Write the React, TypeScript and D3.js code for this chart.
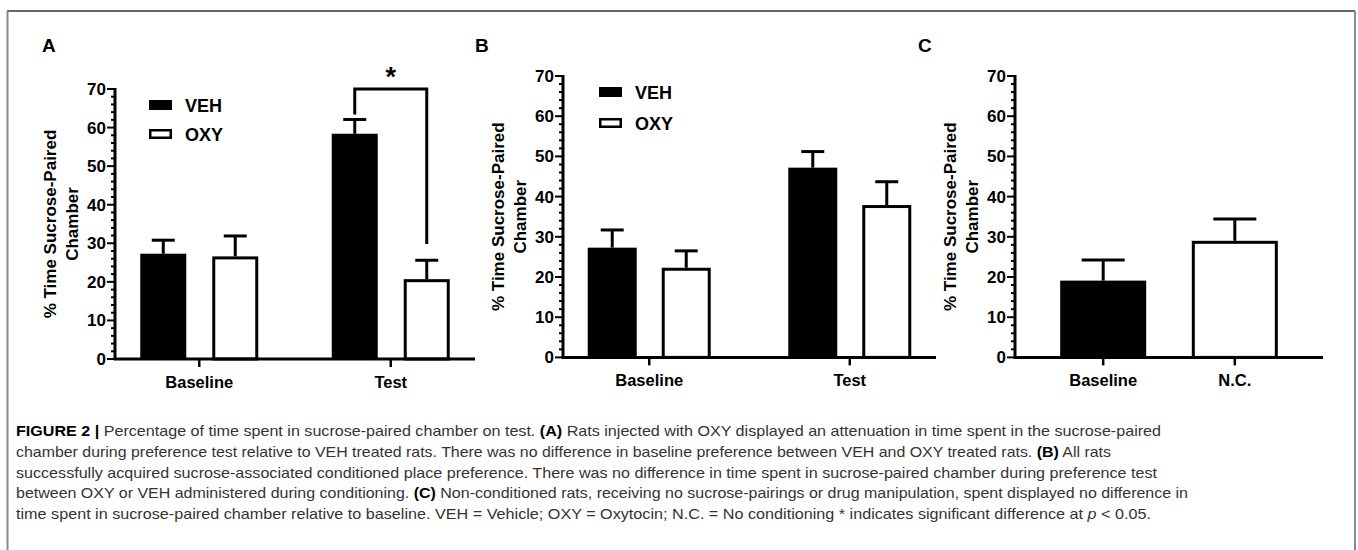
import React from 'react';
import * as d3 from 'd3';

// ---------- DATA ----------
const seriesNames = ['VEH', 'OXY'];
const yTicks = [0, 10, 20, 30, 40, 50, 60, 70];

const categoriesA = ['Baseline', 'Test'];
const vehMeanA = [27.3, 58.4];
const vehSemA = [3.5, 3.7];
const oxyMeanA = [26.6, 20.7];
const oxySemA = [5.3, 4.9];
const sigA = { top: 70, leftEnd: 63.4, rightEnd: 29.8, label: '*' };

const categoriesB = ['Baseline', 'Test'];
const vehMeanB = [27.3, 47.2];
const vehSemB = [4.4, 4.0];
const oxyMeanB = [22.3, 37.9];
const oxySemB = [4.2, 5.8];

const categoriesC = ['Baseline', 'N.C.'];
const meanC = [19.1, 29.0];
const semC = [5.1, 5.4];

const yTitle1 = '% Time Sucrose-Paired';
const yTitle2 = 'Chamber';

const captionLines: { t: string; b?: boolean; i?: boolean }[][] = [
  [
    { t: 'FIGURE 2 | ', b: true },
    { t: 'Percentage of time spent in sucrose-paired chamber on test. ' },
    { t: '(A)', b: true },
    { t: ' Rats injected with OXY displayed an attenuation in time spent in the sucrose-paired' },
  ],
  [
    { t: 'chamber during preference test relative to VEH treated rats. There was no difference in baseline preference between VEH and OXY treated rats. ' },
    { t: '(B)', b: true },
    { t: ' All rats' },
  ],
  [
    { t: 'successfully acquired sucrose-associated conditioned place preference. There was no difference in time spent in sucrose-paired chamber during preference test' },
  ],
  [
    { t: 'between OXY or VEH administered during conditioning. ' },
    { t: '(C)', b: true },
    { t: ' Non-conditioned rats, receiving no sucrose-pairings or drug manipulation, spent displayed no difference in' },
  ],
  [
    { t: 'time spent in sucrose-paired chamber relative to baseline. VEH = Vehicle; OXY = Oxytocin; N.C. = No conditioning * indicates significant difference at ' },
    { t: 'p', i: true },
    { t: ' < 0.05.' },
  ],
];
const captionEnds = [1161, 1111, 1157, 1188, 1151];

// ---------- LAYOUT ----------
const FONT = "'Liberation Sans', Arial, Helvetica, sans-serif";

type Bar = { cat: number; offset: number; width: number; mean: number; sem: number; fill: string };

interface PanelProps {
  label: string;
  labelX: number;
  axisX: number;
  axisEnd: number;
  y0: number;
  y70: number;
  categories: string[];
  padding: number;
  bars: (x: d3.ScalePoint<string>, cats: string[]) => Bar[];
  legend?: { x: number; y: number; gap: number };
  sig?: { a: number; b: number };
}

function Panel(p: PanelProps) {
  const y = d3.scaleLinear().domain([0, 70]).range([p.y0, p.y70]);
  const x = d3.scalePoint<string>().domain(p.categories).range([p.axisX, p.axisEnd]).padding(p.padding);
  const minor = d3.range(0, 71, 2).filter((v) => v % 10 !== 0);
  const bars = p.bars(x, p.categories);
  const midY = (p.y0 + p.y70) / 2;
  const sw = 3;
  return (
    <g>
      <text x={p.labelX} y={52} fontFamily={FONT} fontWeight="bold" fontSize={19} fill="#000">
        {p.label}
      </text>
      {/* y title */}
      <g transform={`translate(${p.axisX - 59},${midY}) rotate(-90)`}>
        <text textAnchor="middle" y={0} fontFamily={FONT} fontWeight="bold" fontSize={17} fill="#000">
          {yTitle1}
        </text>
        <text textAnchor="middle" y={22} fontFamily={FONT} fontWeight="bold" fontSize={17} fill="#000">
          {yTitle2}
        </text>
      </g>
      {/* bars */}
      {bars.map((b, i) => {
        const cx = (x(p.categories[b.cat]) as number) + b.offset;
        const top = y(b.mean);
        const et = y(b.mean + b.sem);
        const capHalf = b.width > 60 ? 21.5 : 11.5;
        const white = b.fill === 'white';
        return (
          <g key={i}>
            <line x1={cx} x2={cx} y1={top} y2={et} stroke="#000" strokeWidth={sw} />
            <line x1={cx - capHalf} x2={cx + capHalf} y1={et} y2={et} stroke="#000" strokeWidth={sw} />
            <rect
              x={cx - b.width / 2 + (white ? sw / 2 : 0)}
              y={top + (white ? sw / 2 : 0)}
              width={b.width - (white ? sw : 0)}
              height={p.y0 - top - (white ? sw / 2 : 0)}
              fill={b.fill}
              stroke={white ? '#000' : 'none'}
              strokeWidth={sw}
            />
          </g>
        );
      })}
      {/* significance bracket */}
      {p.sig && (() => {
        const xa = (x(p.categories[1]) as number) + p.sig.a;
        const xb = (x(p.categories[1]) as number) + p.sig.b;
        return (
          <g>
            <path
              d={`M${xa},${y(sigA.leftEnd)} V${y(sigA.top)} H${xb} V${y(sigA.rightEnd)}`}
              fill="none"
              stroke="#000"
              strokeWidth={sw}
            />
            <text x={(xa + xb) / 2} y={y(sigA.top) - 3} textAnchor="middle" fontFamily={FONT} fontWeight="bold" fontSize={27}>
              {sigA.label}
            </text>
          </g>
        );
      })()}
      {/* y axis */}
      <line x1={p.axisX} x2={p.axisX} y1={y(70) - 1} y2={p.y0} stroke="#000" strokeWidth={sw} />
      {yTicks.map((t) => (
        <g key={t}>
          <line x1={p.axisX - 8} x2={p.axisX} y1={y(t)} y2={y(t)} stroke="#000" strokeWidth={2} />
          <text x={p.axisX - 9} y={y(t) + 6} textAnchor="end" fontFamily={FONT} fontWeight="bold" fontSize={17} fill="#000">
            {t}
          </text>
        </g>
      ))}
      {minor.map((t) => (
        <line key={t} x1={p.axisX - 4} x2={p.axisX} y1={y(t)} y2={y(t)} stroke="#000" strokeWidth={2} />
      ))}
      {/* x axis */}
      <line x1={p.axisX - 1.5} x2={p.axisEnd} y1={p.y0} y2={p.y0} stroke="#000" strokeWidth={sw} />
      {p.categories.map((c) => (
        <g key={c}>
          <line x1={x(c)} x2={x(c)} y1={p.y0} y2={p.y0 + 8} stroke="#000" strokeWidth={2.5} />
          <text x={x(c)} y={p.y0 + 29} textAnchor="middle" fontFamily={FONT} fontWeight="bold" fontSize={16.5} fill="#000">
            {c}
          </text>
        </g>
      ))}
      {/* legend */}
      {p.legend &&
        seriesNames.map((s, i) => (
          <g key={s} transform={`translate(${p.legend!.x},${p.legend!.y + i * p.legend!.gap})`}>
            <rect
              x={i === 0 ? 0 : 1.25}
              y={i === 0 ? 0 : 1.25}
              width={i === 0 ? 23 : 20.5}
              height={i === 0 ? 10 : 7.5}
              fill={i === 0 ? '#000' : '#fff'}
              stroke={i === 0 ? 'none' : '#000'}
              strokeWidth={2.5}
            />
            <text x={36} y={12} fontFamily={FONT} fontWeight="bold" fontSize={18} fill="#000">
              {s}
            </text>
          </g>
        ))}
    </g>
  );
}

function groupedBars(vm: number[], vs: number[], om: number[], os: number[], off: number, w: number) {
  return () => {
    const out: Bar[] = [];
    vm.forEach((m, i) => {
      out.push({ cat: i, offset: -off, width: w, mean: m, sem: vs[i], fill: '#000' });
      out.push({ cat: i, offset: off, width: w, mean: om[i], sem: os[i], fill: 'white' });
    });
    return out;
  };
}

export default function App() {
  return (
    <svg
      width={1358}
      height={550}
      style={{ position: 'absolute', left: 0, top: 0, background: '#fff' }}
      xmlns="http://www.w3.org/2000/svg"
    >
      <rect x={0} y={0} width={1358} height={550} fill="#fff" />
      {/* frame */}
      <line x1={7} x2={1355} y1={11} y2={11} stroke="#333" strokeWidth={1.5} />
      <line x1={7.5} x2={7.5} y1={11} y2={550} stroke="#8a8a8a" strokeWidth={2} />
      <line x1={1355} x2={1355} y1={11} y2={550} stroke="#8a8a8a" strokeWidth={2} />

      <Panel
        label="A"
        labelX={42}
        axisX={115}
        axisEnd={475}
        y0={359}
        y70={89}
        categories={categoriesA}
        padding={0.44}
        bars={groupedBars(vehMeanA, vehSemA, oxyMeanA, oxySemA, 36, 46)}
        legend={{ x: 149, y: 100, gap: 29 }}
        sig={{ a: -36, b: 36 }}
      />
      <Panel
        label="B"
        labelX={475}
        axisX={563}
        axisEnd={936}
        y0={357.4}
        y70={76}
        categories={categoriesB}
        padding={0.43}
        bars={groupedBars(vehMeanB, vehSemB, oxyMeanB, oxySemB, 37, 49)}
        legend={{ x: 599, y: 87, gap: 31 }}
      />
      <Panel
        label="C"
        labelX={918}
        axisX={1015}
        axisEnd={1323}
        y0={357.4}
        y70={76}
        categories={categoriesC}
        padding={0.67}
        bars={() =>
          meanC.map((m, i) => ({ cat: i, offset: 0, width: 86, mean: m, sem: semC[i], fill: i === 0 ? '#000' : 'white' }))
        }
      />

      {/* caption */}
      {captionLines.map((line, li) => (
        <text
          key={li}
          x={16}
          y={436 + li * 20.8}
          fontFamily={FONT}
          fontSize={15}
          fill="#333"
          textLength={captionEnds[li] - 16}
          lengthAdjust="spacingAndGlyphs"
        >
          {line.map((seg, si) => (
            <tspan
              key={si}
              fontWeight={seg.b ? 'bold' : 'normal'}
              fontStyle={seg.i ? 'italic' : 'normal'}
              fill={seg.b ? '#000' : '#333'}
            >
              {seg.t}
            </tspan>
          ))}
        </text>
      ))}
    </svg>
  );
}
